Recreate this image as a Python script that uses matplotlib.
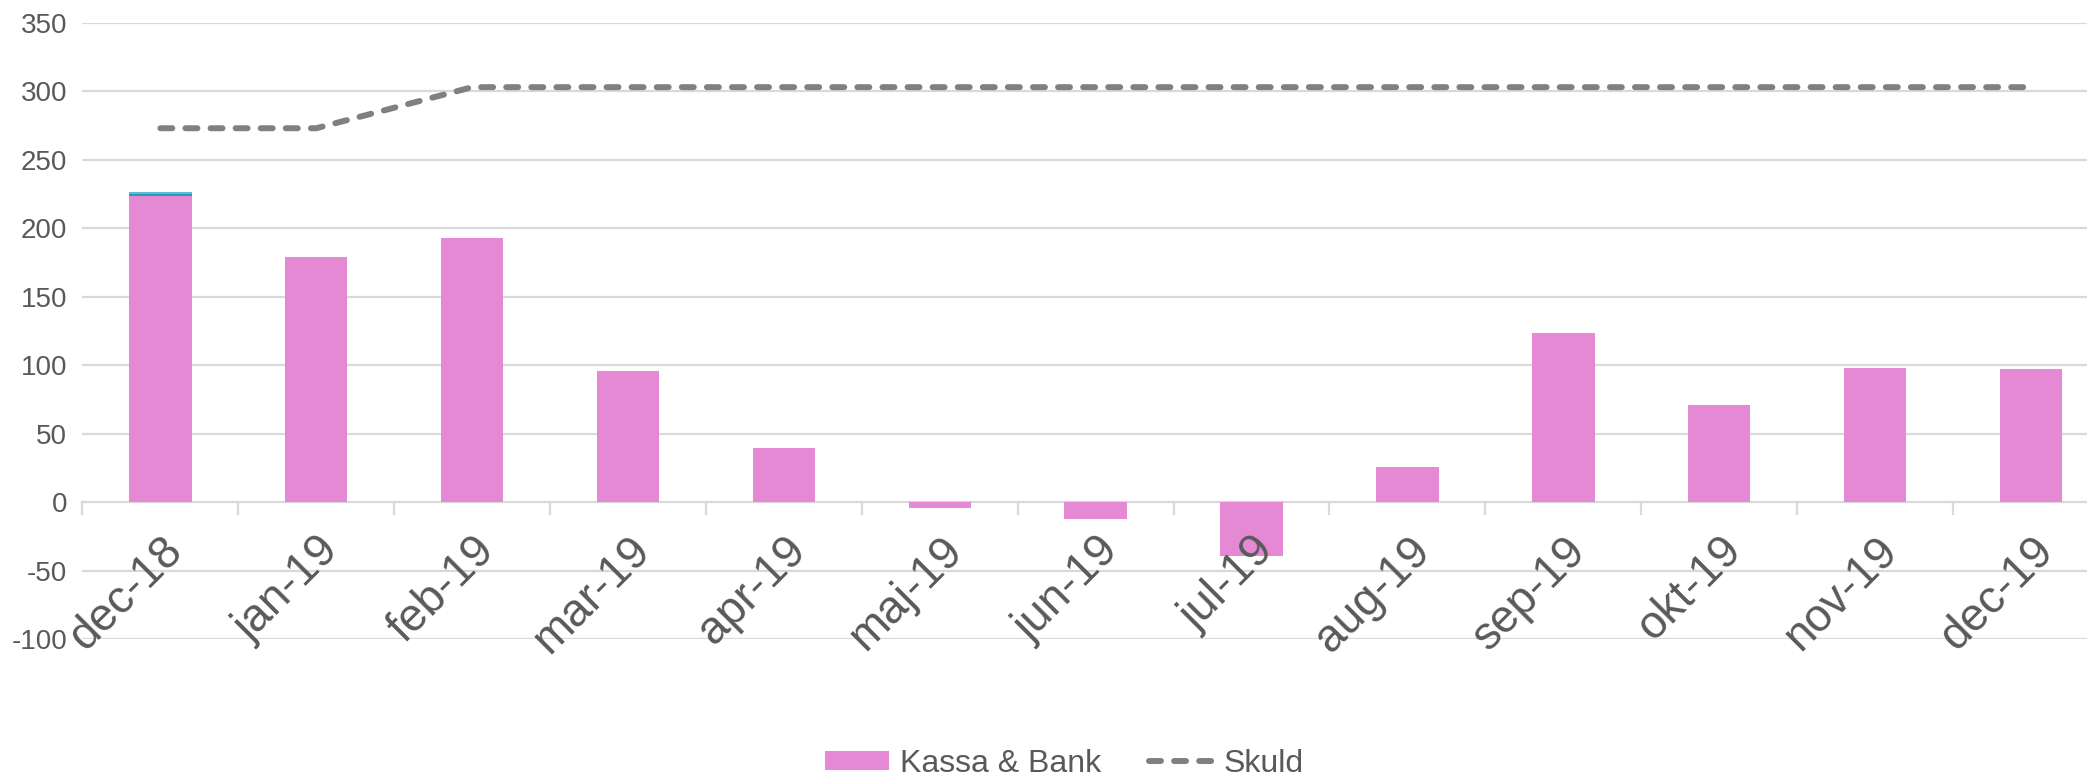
import matplotlib
matplotlib.use("Agg")
import matplotlib.pyplot as plt
from matplotlib.patches import Patch
from matplotlib.lines import Line2D
import matplotlib.transforms as mtransforms
import numpy as np

plt.rcParams['font.family'] = ['Liberation Sans', 'DejaVu Sans']

months = ["dec-18", "jan-19", "feb-19", "mar-19", "apr-19", "maj-19", "jun-19",
          "jul-19", "aug-19", "sep-19", "okt-19", "nov-19", "dec-19"]
kassa_bank = [223.7, 178.8, 192.7, 96.0, 39.3, -4.2, -12.7, -39.1, 25.7, 123.4, 70.6, 97.7, 97.5]
other_a = [1.5, 0, 0, 0, 0, 0, 0, 0, 0, 0, 0, 0, 0]
other_b = [1.3, 0, 0, 0, 0, 0, 0, 0, 0, 0, 0, 0, 0]
skuld = [273, 273, 303, 303, 303, 303, 303, 303, 303, 303, 303, 303, 303]
yticks = [-100, -50, 0, 50, 100, 150, 200, 250, 300, 350]

PINK = "#E689D4"
TEAL = "#1AA0BA"
LIGHT = "#62B8D2"
GRID = "#D9D9D9"
TXT = "#595959"
LINE = "#808080"

fig = plt.figure(figsize=(20.87, 7.81), dpi=100)
ax = fig.add_axes([0.0395, 0.1818, 0.971, 0.789])
ax.set_axisbelow(False)

x = np.arange(len(months))
w = 0.40
ax.bar(x, kassa_bank, width=w, color=PINK, zorder=2)
base = np.array(kassa_bank)
ax.bar(x, other_a, width=w, bottom=base, color=TEAL, zorder=2)
ax.bar(x, other_b, width=w, bottom=base + np.array(other_a), color=LIGHT, zorder=2)
ax.plot(x, skuld, color=LINE, lw=4.3, linestyle=(0, (2.0, 2.2)),
        dash_capstyle='round', zorder=2.2)

ax.set_xlim(-0.5, len(months) - 0.5)
ax.set_ylim(-100, 350)
ax.set_yticks(yticks)
ax.set_yticklabels([str(v) for v in yticks])
for v in yticks:
    ax.axhline(v, color=GRID, lw=1.6, zorder=1)

for s in ax.spines.values():
    s.set_visible(False)
ax.spines['bottom'].set_position(('data', 0))

ax.tick_params(axis='y', length=0, pad=11, labelsize=20, labelcolor=TXT)

ax.set_xticks(x)
ax.set_xticklabels(months)
ax.tick_params(axis='x', which='major', length=0, pad=19, labelsize=33, labelcolor=TXT)
for xb in np.arange(len(months) + 1) - 0.5:
    ax.plot([xb, xb], [0, -8.5], color=GRID, lw=1.6, zorder=1.5, clip_on=False)

offset = mtransforms.ScaledTranslation(0.0, 0, fig.dpi_scale_trans)
for lab in ax.get_xticklabels():
    lab.set_rotation(45)
    lab.set_ha('right')
    lab.set_va('top')
    lab.set_rotation_mode('anchor')
    lab.set_transform(lab.get_transform() + offset)

handles = [Patch(facecolor=PINK, edgecolor='none', label="Kassa & Bank"),
           Line2D([0], [0], color=LINE, lw=4.3, linestyle=(0, (2.0, 2.2)),
                  dash_capstyle='round', label="Skuld")]
leg = fig.legend(handles=handles, loc='center', bbox_to_anchor=(0.51, 0.022),
                 ncol=2, frameon=False, fontsize=23, handlelength=2.0,
                 handleheight=0.55, handletextpad=0.35, columnspacing=1.5)
for t in leg.get_texts():
    t.set_color(TXT)

fig.savefig("out.png", dpi=100)
